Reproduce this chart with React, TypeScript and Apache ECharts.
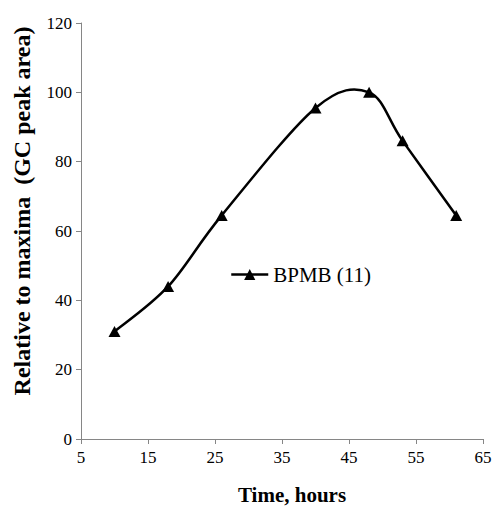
import React, { useEffect, useRef } from "react";
import * as echarts from "echarts";

const timeHours = [10, 18, 26, 40, 48, 53, 61];
const relativeValues = [31, 44, 64.5, 95.5, 100, 86, 64.5];
const seriesName = "BPMB (11)";
const xTitle = "Time, hours";
const yTitle = "Relative to maxima  (GC peak area)";

export default function App() {
  const ref = useRef<HTMLDivElement>(null);
  useEffect(() => {
    if (!ref.current) return;
    const chart = echarts.init(ref.current, undefined, { renderer: "svg" });
    const font = "Liberation Serif";
    const points = timeHours.map((t, i) => [t, relativeValues[i]]);
    chart.setOption({
      animation: false,
      backgroundColor: "#ffffff",
      textStyle: { fontFamily: font },
      grid: { left: 81, right: 12, top: 23, bottom: 67, containLabel: false },
      legend: {
        left: 225,
        top: 259,
        itemWidth: 37,
        itemHeight: 14,
        itemGap: 5,
        data: [seriesName],
        lineStyle: { color: "#000", width: 2.5, opacity: 1 },
        textStyle: { fontFamily: font, fontSize: 21, color: "#000" },
      },
      xAxis: {
        type: "value",
        min: 5,
        max: 65,
        interval: 10,
        name: xTitle,
        nameLocation: "middle",
        nameGap: 45,
        nameTextStyle: {
          fontFamily: font,
          fontSize: 21,
          fontWeight: "bold",
          color: "#000",
          padding: [0, 0, 0, 20],
        },
        axisLine: { show: true, lineStyle: { color: "#868686", width: 1 } },
        axisTick: { show: true, length: 5, lineStyle: { color: "#868686" } },
        axisLabel: { fontFamily: font, fontSize: 17, color: "#000", margin: 10 },
        splitLine: { show: false },
      },
      yAxis: {
        type: "value",
        min: 0,
        max: 120,
        interval: 20,
        name: yTitle,
        nameLocation: "middle",
        nameGap: 47,
        nameTextStyle: {
          fontFamily: font,
          fontSize: 24,
          fontWeight: "bold",
          color: "#000",
          padding: [0, 0, 0, 40],
        },
        axisLine: { show: true, lineStyle: { color: "#868686", width: 1 } },
        axisTick: { show: true, length: 5, lineStyle: { color: "#868686" } },
        axisLabel: { fontFamily: font, fontSize: 17, color: "#000", margin: 9 },
        splitLine: { show: false },
      },
      series: [
        {
          type: "custom",
          name: "curve",
          data: points,
          z: 2,
          silent: true,
          renderItem: (params: any, api: any) => {
            if (params.dataIndex !== 0) return null;
            const p = points.map((d) => api.coord(d));
            const n = p.length;
            const k = 1 / 6;
            let d = `M${p[0][0]},${p[0][1]}`;
            for (let i = 0; i < n - 1; i++) {
              const p0 = p[Math.max(i - 1, 0)];
              const p1 = p[i];
              const p2 = p[i + 1];
              const p3 = p[Math.min(i + 2, n - 1)];
              const c1x = p1[0] + (p2[0] - p0[0]) * k;
              const c1y = p1[1] + (p2[1] - p0[1]) * k;
              const c2x = p2[0] - (p3[0] - p1[0]) * k;
              const c2y = p2[1] - (p3[1] - p1[1]) * k;
              d += ` C${c1x},${c1y} ${c2x},${c2y} ${p2[0]},${p2[1]}`;
            }
            return {
              type: "path",
              shape: { pathData: d },
              style: { fill: "none", stroke: "#000", lineWidth: 2.5 },
            };
          },
        },
        {
          name: seriesName,
          type: "line",
          z: 3,
          data: points,
          symbol: "triangle",
          symbolSize: [12, 11],
          showAllSymbol: true,
          lineStyle: { color: "#000", width: 0, opacity: 0 },
          itemStyle: { color: "#000" },
        },
      ],
    });
    return () => chart.dispose();
  }, []);
  return (
    <div
      ref={ref}
      style={{ position: "fixed", left: 0, top: 0, width: 495, height: 510 }}
    />
  );
}
